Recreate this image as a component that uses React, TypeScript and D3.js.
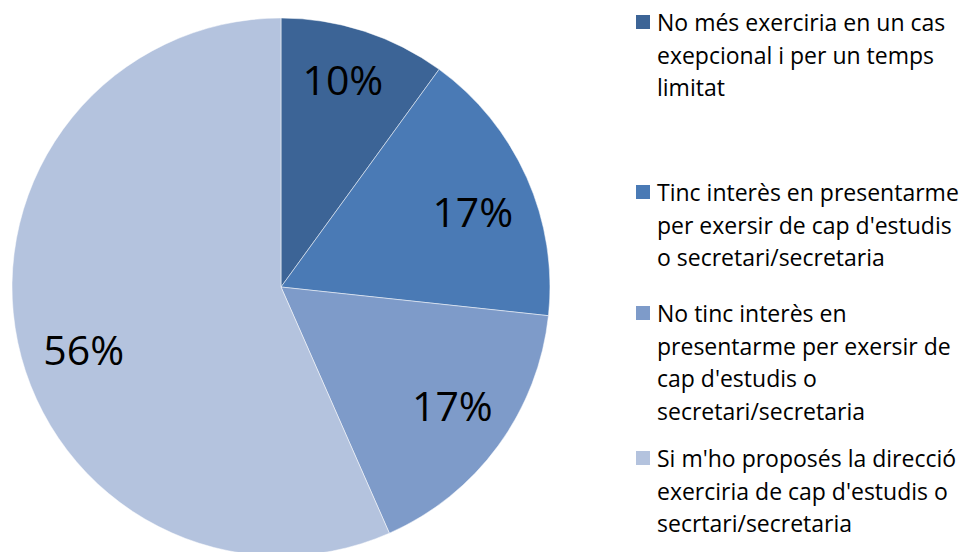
import React from "react";
import * as d3 from "d3";

const categories = [
  "No més exerciria en un cas exepcional i per un temps limitat",
  "Tinc interès en presentarme per exersir de cap d'estudis o secretari/secretaria",
  "No tinc interès en presentarme per exersir de cap d'estudis o secretari/secretaria",
  "Si m'ho proposés la direcció exerciria de cap d'estudis o secrtari/secretaria",
];
const values = [10, 16.7, 16.7, 56.6];
const valueLabels = ["10%", "17%", "17%", "56%"];
const legendLines = [
  ["No més exerciria en un cas", "exepcional i per un temps", "limitat"],
  ["Tinc interès en presentarme", "per exersir de cap d'estudis", "o secretari/secretaria"],
  ["No tinc interès en", "presentarme per exersir de", "cap d'estudis o", "secretari/secretaria"],
  ["Si m'ho proposés la direcció", "exerciria de cap d'estudis o", "secrtari/secretaria"],
];
const colors = ["#3C6496", "#4A7AB5", "#7E9BC9", "#B4C3DE"];

const W = 960;
const H = 552;
const cx = 281;
const cy = 287;
const R = 269;
const legendTops = [22, 192, 313, 458];
const lineH = 32.5;
const labelNudge: [number, number][] = [[-3, -8], [0, 9], [2, -6], [8, 19]];
const font = "'Open Sans', 'Noto Sans', sans-serif";

export default function App() {
  const pie = d3.pie<number>().sort(null).value((d) => d);
  const arcs = pie(values);
  const arc = d3.arc<d3.PieArcDatum<number>>().innerRadius(0).outerRadius(R);
  const labelArc = d3.arc<d3.PieArcDatum<number>>().innerRadius(R * 0.78).outerRadius(R * 0.78);
  return (
    <svg width={W} height={H} style={{ position: "absolute", left: 0, top: 0, background: "#fff" }}>
      <g transform={`translate(${cx},${cy})`}>
        {arcs.map((a, i) => (
          <path key={i} d={arc(a) || ""} fill={colors[i]} stroke="#fff" strokeWidth={0.5} />
        ))}
        {arcs.map((a, i) => {
          const [x, y] = labelArc.centroid(a);
          return (
            <text key={i} x={x + labelNudge[i][0]} y={y + labelNudge[i][1]} textAnchor="middle" dominantBaseline="central" fontFamily={font} fontSize={41} fill="#000">
              {valueLabels[i]}
            </text>
          );
        })}
      </g>
      {categories.map((c, i) => (
        <g key={c}>
          <rect x={636} y={legendTops[i] - 7} width={14} height={14} fill={colors[i]} />
          {legendLines[i].map((ln, j) => (
            <text key={j} x={657} y={legendTops[i] + j * lineH} dominantBaseline="central" fontFamily={font} fontSize={23} fill="#000">
              {ln}
            </text>
          ))}
        </g>
      ))}
    </svg>
  );
}
